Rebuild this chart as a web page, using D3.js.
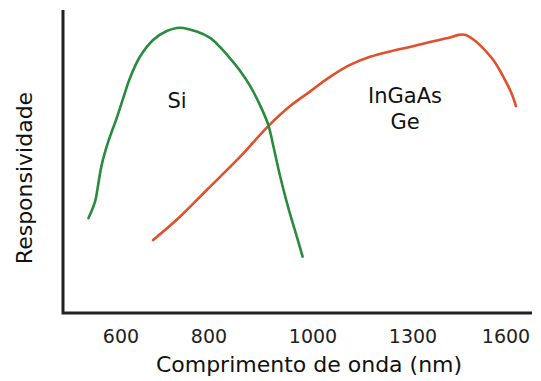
<!DOCTYPE html>
<html>
<head>
<meta charset="utf-8">
<script src="https://cdn.jsdelivr.net/npm/d3@7/dist/d3.min.js"></script>
<style>
  html, body { margin: 0; padding: 0; background: #fff; }
  svg { display: block; }
  text { font-family: "DejaVu Sans", sans-serif; fill: #111; }
</style>
</head>
<body>
<svg id="chart" width="541" height="381"></svg>
<script>
// Wavelength ticks (nm), spaced evenly-ish along the axis
const tickValues = [600, 800, 1000, 1300, 1600];

// Silicon responsivity curve (nm, relative)
const siWavelength = [526, 541, 548, 556, 571, 590, 605, 620, 643, 673, 704, 734, 772, 802, 821, 840, 860, 879, 898, 914, 924, 937, 952, 969, 980];
const siResponse   = [0.316, 0.371, 0.427, 0.493, 0.571, 0.649, 0.716, 0.782, 0.854, 0.91, 0.94, 0.951, 0.938, 0.917, 0.887, 0.85, 0.807, 0.757, 0.693, 0.627, 0.554, 0.454, 0.354, 0.254, 0.188];

// InGaAs / Ge responsivity curve (nm, relative)
const ingaasWavelength = [673, 734, 795, 860, 914, 956, 994, 1051, 1111, 1171, 1231, 1291, 1355, 1419, 1447, 1470, 1497, 1516, 1559, 1591, 1618, 1632];
const ingaasResponse   = [0.243, 0.321, 0.41, 0.521, 0.623, 0.69, 0.738, 0.787, 0.827, 0.854, 0.872, 0.887, 0.903, 0.918, 0.927, 0.927, 0.91, 0.893, 0.843, 0.788, 0.732, 0.69];

const svg = d3.select("#chart");

const axisLeftX = 63, axisBottomY = 313, axisTopY = 10, axisRightX = 532;

// Piecewise-linear wavelength scale: tick labels are laid out at near-equal spacing
const x = d3.scaleLinear()
  .domain(tickValues)
  .range([121, 209, 313, 413, 506]);

const y = d3.scaleLinear().domain([0, 1]).range([axisBottomY, 13]);

// Axes frame (left + bottom)
svg.append("path")
  .attr("d", `M${axisLeftX},${axisTopY} V${axisBottomY} H${axisRightX}`)
  .attr("fill", "none")
  .attr("stroke", "#222")
  .attr("stroke-width", 3);

// Tick labels
svg.append("g").selectAll("text")
  .data(tickValues)
  .join("text")
  .attr("x", d => x(d))
  .attr("y", 343)
  .attr("text-anchor", "middle")
  .attr("font-size", 19)
  .style("fill", "#222")
  .text(d => d);

// Axis titles
svg.append("text")
  .attr("x", 309)
  .attr("y", 372)
  .attr("text-anchor", "middle")
  .attr("font-size", 22)
  .text("Comprimento de onda (nm)");

svg.append("text")
  .attr("transform", "translate(32,178) rotate(-90)")
  .attr("text-anchor", "middle")
  .attr("font-size", 22)
  .text("Responsividade");

const line = d3.line()
  .x(d => x(d[0]))
  .y(d => y(d[1]))
  .curve(d3.curveCatmullRom.alpha(0.5));

svg.append("path")
  .datum(d3.zip(ingaasWavelength, ingaasResponse))
  .attr("d", line)
  .attr("fill", "none")
  .attr("stroke", "#e0502a")
  .attr("stroke-width", 2.6)
  .attr("stroke-linecap", "round");

svg.append("path")
  .datum(d3.zip(siWavelength, siResponse))
  .attr("d", line)
  .attr("fill", "none")
  .attr("stroke", "#2a8a3e")
  .attr("stroke-width", 2.6)
  .attr("stroke-linecap", "round");

// Curve labels
svg.append("text")
  .attr("x", 177).attr("y", 108)
  .attr("text-anchor", "middle")
  .attr("font-size", 21)
  .text("Si");

svg.append("text")
  .attr("x", 405).attr("y", 103)
  .attr("text-anchor", "middle")
  .attr("font-size", 21)
  .text("InGaAs");

svg.append("text")
  .attr("x", 405).attr("y", 129)
  .attr("text-anchor", "middle")
  .attr("font-size", 21)
  .text("Ge");
</script>
</body>
</html>
